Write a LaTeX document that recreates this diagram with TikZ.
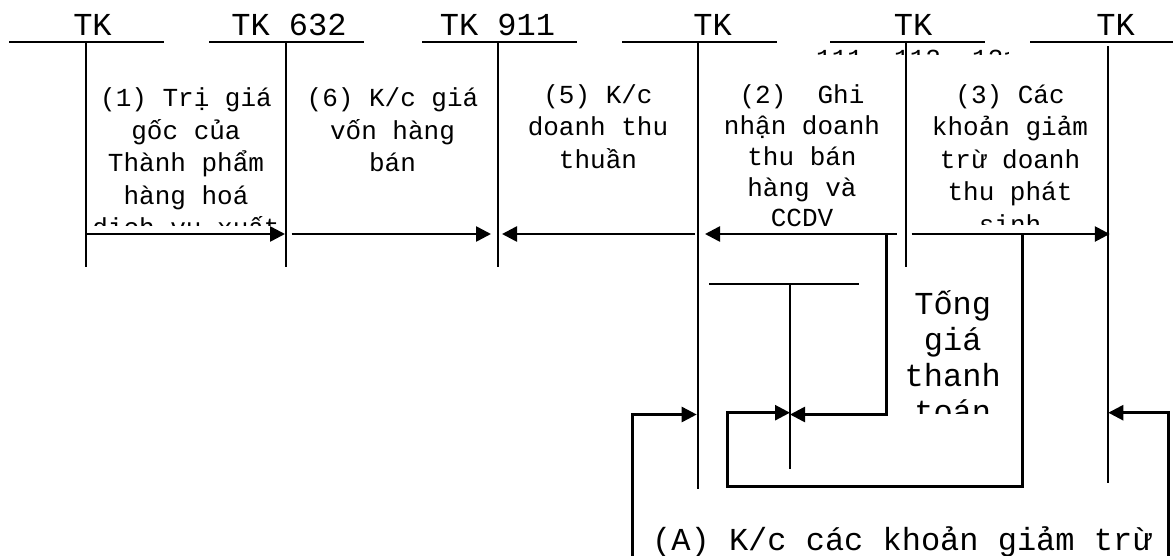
\documentclass[tikz,border=0pt]{standalone}
\usepackage{fontspec}
\setmainfont{Liberation Mono}
\usetikzlibrary{arrows.meta}

\begin{document}
\begin{tikzpicture}[x=1pt,y=-1pt,
  acc/.style={line width=2pt},
  flow/.style={line width=2.6pt,-{Triangle[length=15pt,width=15pt]}},
  hdr/.style={font=\fontsize{32}{36}\selectfont,anchor=base,inner sep=0pt},
  entry/.style={font=\fontsize{26}{32.5}\selectfont,align=center,anchor=base,inner sep=0pt}]
\path[use as bounding box] (0,0) rectangle (1173,555);

% levels
\coordinate (row) at (0,234);
\coordinate (low) at (0,414.5);
\coordinate (mid) at (0,412.7);
\coordinate (bot) at (0,486.7);

% account heads
\node[hdr] (hA) at (92.5,35) {TK};
\node[hdr] (hB) at (289,35) {TK 632};
\node[hdr] (hC) at (497.5,35) {TK 911};
\node[hdr] (hD) at (712.5,35) {TK};
\node[hdr] (hE) at (913,35) {TK};
\node[hdr] (hF) at (1115.5,35) {TK};
\begin{scope}
\clip (810,46) rectangle (1008,54);
\node[entry,anchor=base west] (hE2) at (816,67) {111, 112, 131};
\end{scope}

% T accounts
\coordinate (vA) at (86,42.3);
\coordinate (vB) at (286,42.3);
\coordinate (vC) at (498,42.3);
\coordinate (vD) at (698,42.3);
\coordinate (vE) at (906,42.3);
\coordinate (vF) at (1108.3,42.3);
\coordinate (vG) at (790,284.3);
\draw[acc] (9,42.3) -- (164,42.3) (vA) -- ++(0,225);
\draw[acc] (209,42.3) -- (364,42.3) (vB) -- ++(0,225);
\draw[acc] (422,42.3) -- (577,42.3) (vC) -- ++(0,225);
\draw[acc] (622,42.3) -- (777,42.3) (vD) -- ++(0,447);
\draw[acc] (830,42.3) -- (985,42.3) (vE) -- ++(0,224.5);
\draw[acc] (1030,42.3) -- (1175,42.3) (vF) ++(0,4) -- ++(0,436.5);
\draw[acc] (709.3,284.3) -- (859.3,284.3) (vG) -- ++(0,185);

% entries (anchored on the last line)
\begin{scope}
\clip (90,60) rectangle (282,225);
\node[entry] (e1) at (186,236.7) {(1) Trị giá\\gốc của\\Thành phẩm\\hàng hoá\\dịch vụ xuất};
\end{scope}
\node[entry] (e6) at (392.5,171.7) {(6) K/c giá\\vốn hàng\\bán};
\node[entry] (e5) at (598,168.3) {(5) K/c\\doanh thu\\thuần};
\node[entry,font=\fontsize{26}{30.9}\selectfont] (e2) at (802,226.9) {(2)~~Ghi\\nhận doanh\\thu bán\\hàng và\\CCDV};
\begin{scope}
\clip (910,60) rectangle (1104,224);
\node[entry] (e3) at (1010,233.3) {(3) Các\\khoản giảm\\trừ doanh\\thu phát\\sinh};
\end{scope}
\begin{scope}
\clip (890,290) rectangle (1018,413);
\node[entry,font=\fontsize{32}{36}\selectfont] (tot) at (952.7,422.3) {Tổng\\giá\\thanh\\toán};
\end{scope}
\node[hdr,anchor=base west] (eA) at (652,550) {(A) K/c các khoản giảm trừ};

% flows on the row
\draw[flow,shorten >=1pt] (vA|-row) -- (vB|-row);
\draw[flow,shorten <=5.7pt,shorten >=7pt] (vB|-row) -- (vC|-row);
\draw[flow,shorten <=3pt,shorten >=4pt] (vD|-row) -- (vC|-row);
\draw[flow,shorten <=9.3pt,shorten >=7pt] (vE|-row) -- (vD|-row);
\draw[flow,shorten <=5.7pt,shorten >=-1.5pt] (vE|-row) -- (vF|-row);

% branches below
\coordinate (pay) at (886.7,234);
\coordinate (ded) at (1022.3,234);
\coordinate (lp) at (727.3,412.7);
\coordinate (aL) at (632.7,560);
\coordinate (aR) at (1168.3,560);
\draw[flow] (pay) |- (vG|-low);
\draw[flow] (ded) |- (lp|-bot) -- (lp) -- (vG|-mid);
\draw[flow,shorten >=1.3pt] (aL) |- (vD|-low);
\draw[flow] (aR) |- (vF|-mid);
\end{tikzpicture}
\end{document}
